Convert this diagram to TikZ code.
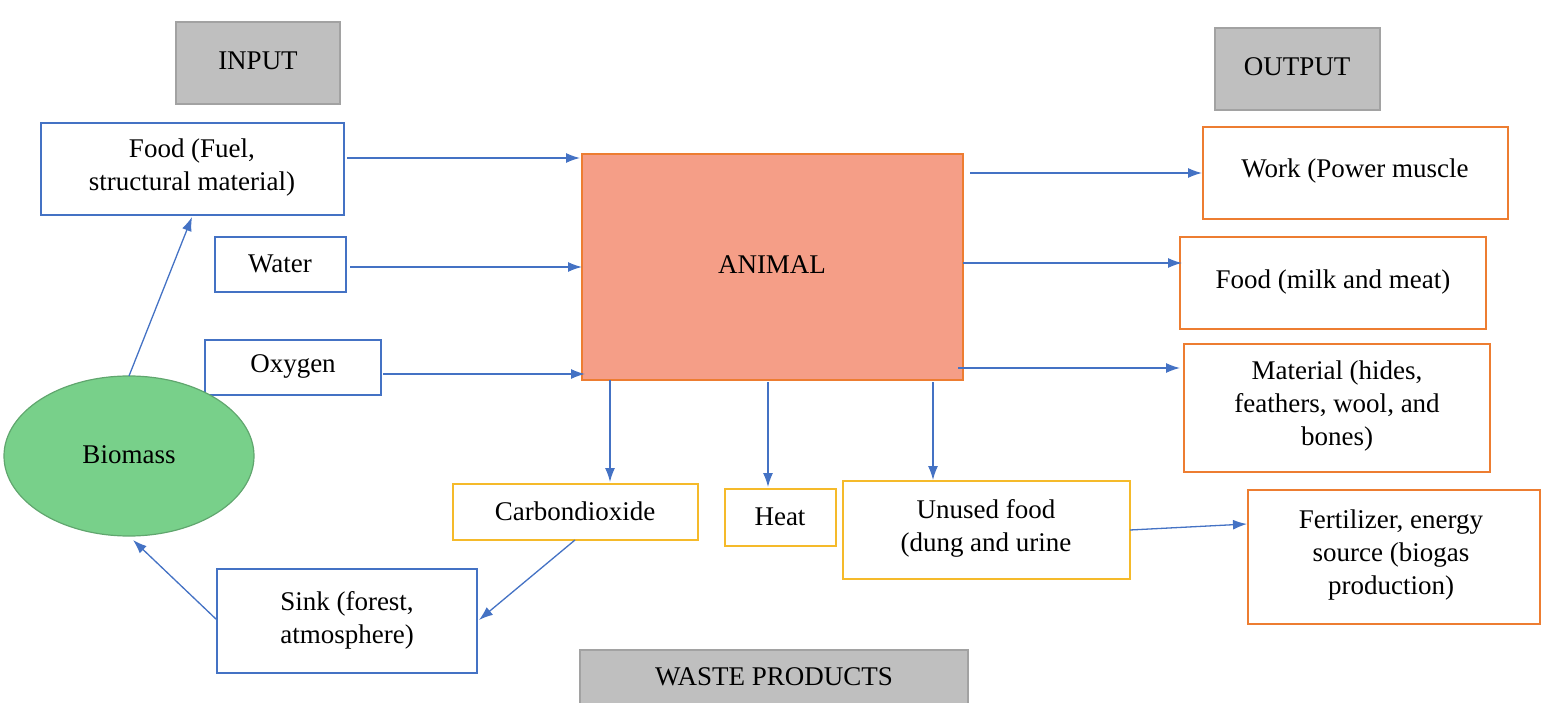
\documentclass[tikz,border=0pt]{standalone}
\usepackage{fontspec}
\setmainfont{Liberation Serif}
\usetikzlibrary{arrows.meta}
\definecolor{bl}{HTML}{4472C4}
\definecolor{orn}{HTML}{ED7D31}
\definecolor{yel}{HTML}{F5BA2A}
\definecolor{gr}{HTML}{BFBFBF}
\definecolor{anim}{HTML}{F59E87}
\definecolor{bio}{HTML}{78D08A}
\begin{document}
\begin{tikzpicture}[x=1pt,y=-1pt,
  txt/.style={font=\fontsize{27}{33}\selectfont,align=center},
  gbox/.style={fill=gr,draw=gr!85!black,line width=1.5pt},
  bbox/.style={draw=bl,line width=2pt},
  obox/.style={draw=orn,line width=2pt},
  ybox/.style={draw=yel,line width=2pt},
  arr/.style={draw=bl,line width=1.3pt,-{Latex[length=14pt,width=10pt]}}]
\useasboundingbox (0,0) rectangle (1545,703);
\path[gbox] (176,22) rectangle (340,104); \node[txt] (in) at (258,61) {INPUT};
\path[gbox] (1215,28) rectangle (1380,110); \node[txt] (out) at (1297,67) {OUTPUT};
\path[gbox] (580,650) rectangle (968,705); \node[txt] (wp) at (774,677) {WASTE PRODUCTS};
\path[bbox] (41,123) rectangle (344,215); \node[txt] (food) at (192,168) {Food (Fuel,\\structural material)};
\path[bbox] (215,237) rectangle (346,292); \node[txt] (water) at (280,264) {Water};
\path[bbox] (205,340) rectangle (381,395); \node[txt] (oxy) at (293,366) {Oxygen};
\draw[fill=bio,draw=bio!80!black,line width=1.2pt] (129,456) ellipse [x radius=125,y radius=80];
\node[txt] (bio) at (129,455) {Biomass};
\path[fill=anim,draw=orn,line width=2pt] (582,154) rectangle (963,380); \node[txt] (animal) at (772,265) {ANIMAL};
\path[obox] (1203,127) rectangle (1508,219); \node[txt] (work) at (1355,171) {Work (Power muscle};
\path[obox] (1180,237) rectangle (1486,329); \node[txt] (milk) at (1333,282) {Food (milk and meat)};
\path[obox] (1184,344) rectangle (1490,472); \node[txt] (mat) at (1337,406) {Material (hides,\\feathers, wool, and\\bones)};
\path[obox] (1248,490) rectangle (1540,624); \node[txt] (fert) at (1391,555) {Fertilizer, energy\\source (biogas\\production)};
\path[ybox] (453,484) rectangle (698,540); \node[txt] (co2) at (575,511) {Carbondioxide};
\path[ybox] (725,489) rectangle (836,546); \node[txt] (heat) at (780,517) {Heat};
\path[ybox] (843,481) rectangle (1130,579); \node[txt] (unused) at (986,528) {Unused food\\(dung and urine};
\path[bbox] (217,569) rectangle (477,673); \node[txt] (sink) at (347,620) {Sink (forest,\\atmosphere)};
\coordinate (a1) at (347,158); \coordinate (b1) at (580,158);
\coordinate (a2) at (350,267); \coordinate (b2) at (582,267);
\coordinate (a3) at (383,374); \coordinate (b3) at (585,374);
\coordinate (a4) at (970,173); \coordinate (b4) at (1202,173);
\coordinate (a5) at (963,263); \coordinate (b5) at (1182,263);
\coordinate (a6) at (958,368); \coordinate (b6) at (1180,368);
\coordinate (a7) at (610,380); \coordinate (b7) at (610,482);
\coordinate (a8) at (768,382); \coordinate (b8) at (768,487);
\coordinate (a9) at (933,382); \coordinate (b9) at (933,480);
\coordinate (a10) at (1130,530); \coordinate (b10) at (1247,524);
\coordinate (a11) at (575,540); \coordinate (b11) at (479,620);
\coordinate (a12) at (217,620); \coordinate (b12) at (133,540);
\coordinate (a13) at (129,376); \coordinate (b13) at (192,217);
\foreach \i in {1,...,13} \draw[arr] (a\i) -- (b\i);
\end{tikzpicture}
\end{document}
